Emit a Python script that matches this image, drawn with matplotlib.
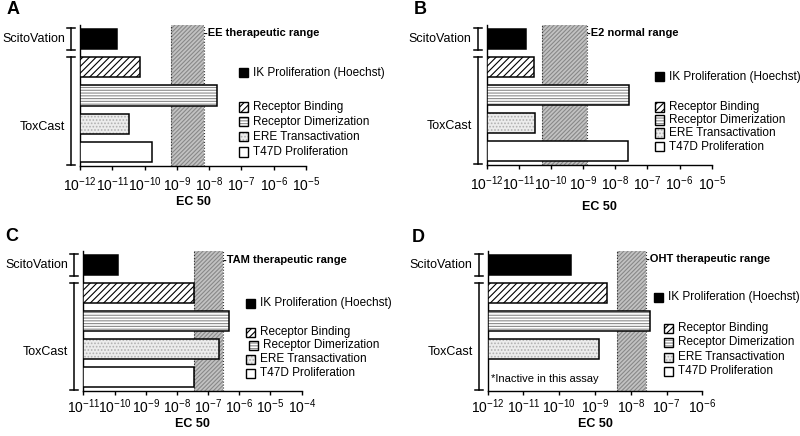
import numpy as np
import matplotlib
matplotlib.use('Agg')
import matplotlib.pyplot as plt
from matplotlib.patches import Rectangle
from matplotlib.lines import Line2D
from matplotlib.ticker import LogLocator, LogFormatterSciNotation, NullLocator

plt.rcParams['font.family'] = ['Liberation Sans', 'DejaVu Sans']
plt.rcParams['mathtext.fontset'] = 'custom'
plt.rcParams['mathtext.rm'] = 'Liberation Sans'
plt.rcParams['mathtext.it'] = 'Liberation Sans:italic'
plt.rcParams['mathtext.bf'] = 'Liberation Sans:bold'
plt.rcParams['hatch.linewidth'] = 0.8

W, H = 800, 436

# assays, top to bottom
assays = ['IK Proliferation (Hoechst)', 'Receptor Binding',
          'Receptor Dimerization', 'ERE Transactivation', 'T47D Proliferation']
groups = ['ScitoVation', 'ToxCast']

# EC50 values (M)
ee_ec50 = [1.4e-11, 7.0e-11, 1.7e-8, 3.2e-11, 1.7e-10]
e2_ec50 = [1.7e-11, 3.0e-11, 2.6e-8, 3.1e-11, 2.5e-8]
tam_ec50 = [1.3e-10, 3.6e-8, 4.8e-7, 2.3e-7, 3.6e-8]
oht_ec50 = [2.1e-10, 2.1e-9, 3.5e-8, 1.3e-9, np.nan]  # T47D inactive

# therapeutic / normal ranges (M)
ee_range = (6.6e-10, 6.8e-9)
e2_range = (5.4e-11, 1.3e-9)
tam_range = (3.5e-8, 2.95e-7)
oht_range = (4.0e-9, 2.6e-8)

range_labels = ['-EE therapeutic range', '-E2 normal range',
                '-TAM therapeutic range', '-OHT therapeutic range']
xlims = [(1e-12, 1e-5), (1e-12, 1e-5), (1e-11, 1e-4), (1e-12, 1e-6)]

# fill, hatch, hatch colour for each assay
styles = [('black', None, 'black'),
          ('white', '/////', 'black'),
          ('white', '------', '#8a8a8a'),
          ('#ececec', '.....', '#b0b0b0'),
          ('white', None, 'black')]

# layout in pixels: axes (left, top, right, bottom)
panels = [
    dict(letter='A', rect=(80, 25, 306, 166), letter_xy=(13, 10), xlab=(193, 202), pad=4,
         leg_x=[239, 239, 239, 239, 239], leg_y=[73, 107, 122, 137, 152]),
    dict(letter='B', rect=(486.7, 25, 711.7, 165), letter_xy=(420, 10), xlab=(599, 207), pad=4,
         leg_x=[655, 655, 655, 655, 655], leg_y=[77, 107, 120, 133, 147]),
    dict(letter='C', rect=(83.3, 251.2, 301.7, 391.3), letter_xy=(12, 236), xlab=(192, 424), pad=1.5,
         leg_x=[246, 246, 249, 246, 246], leg_y=[303, 332, 345, 359, 373]),
    dict(letter='D', rect=(487.7, 251, 702.3, 391.3), letter_xy=(418, 237), xlab=(595, 424), pad=1.5,
         leg_x=[654, 664, 664, 664, 664], leg_y=[297, 328, 342, 357, 371]),
]

all_values = [ee_ec50, e2_ec50, tam_ec50, oht_ec50]
all_ranges = [ee_range, e2_range, tam_range, oht_range]

fig = plt.figure(figsize=(W / 100, H / 100), dpi=100, facecolor='white')

for p, values, rng, rlabel, (xmin, xmax) in zip(panels, all_values, all_ranges,
                                                 range_labels, xlims):
    l, t, r, b = p['rect']
    ax = fig.add_axes([l / W, 1 - b / H, (r - l) / W, (b - t) / H])
    ax.set_xscale('log')
    ax.set_xlim(xmin, xmax)
    ax.set_ylim(4.5, -0.5)

    # range band
    ax.axvspan(rng[0], rng[1], facecolor='#c2c2c2', hatch='////////',
               edgecolor='#888888', linewidth=0, zorder=1)
    for edge in rng:
        ax.axvline(edge, color='#333333', linestyle=':', linewidth=0.8, zorder=2)
    ax.text(rng[1], -0.2, rlabel, fontsize=8, fontweight='bold',
            va='center', ha='left')

    for i, v in enumerate(values):
        if np.isnan(v):
            continue
        fc, hatch, hc = styles[i]
        ax.barh(i, v - xmin, left=xmin, height=0.71, color=fc, hatch=hatch,
                edgecolor=hc, linewidth=0, zorder=3)
        ax.barh(i, v - xmin, left=xmin, height=0.71, fill=False,
                edgecolor='black', linewidth=1.1, zorder=4)
    if np.isnan(values[4]):
        ax.text(xmin * 1.25, 4.05, '*Inactive in this assay', fontsize=8,
                va='center', ha='left')

    for s in ['top', 'right']:
        ax.spines[s].set_visible(False)
    for s in ['left', 'bottom']:
        ax.spines[s].set_linewidth(1.0)
    ax.set_yticks([])
    ax.xaxis.set_major_locator(LogLocator(base=10, numticks=20))
    ax.xaxis.set_minor_locator(NullLocator())
    ax.xaxis.set_major_formatter(LogFormatterSciNotation())
    ax.tick_params(axis='x', direction='out', length=3, width=1,
                   labelsize=10, pad=p['pad'])

    # group brackets left of the axis
    bx = -9 / (r - l)
    tr = matplotlib.transforms.blended_transform_factory(ax.transAxes, ax.transData)
    cap = 4 / (r - l)
    for (y0, y1), name, ylab in zip([(-0.4, 0.4), (0.65, 4.45)], groups, [0, 3.1]):
        ax.add_line(Line2D([bx, bx], [y0, y1], transform=tr, color='black',
                           lw=1.1, clip_on=False))
        for yy in (y0, y1):
            ax.add_line(Line2D([bx - cap, bx + cap], [yy, yy], transform=tr,
                               color='black', lw=1.1, clip_on=False))
        ax.text(-15 / (r - l), ylab, name, transform=tr, fontsize=9,
                ha='right', va='center')

    # legend drawn as boxes + labels
    for i, name in enumerate(assays):
        fc, hatch, hc = styles[i]
        x0, y0 = p['leg_x'][i], p['leg_y'][i]
        fig.patches.append(Rectangle((x0 / W, 1 - (y0 + 4.5) / H), 9 / W, 9 / H,
                                     transform=fig.transFigure, facecolor=fc,
                                     hatch=hatch, edgecolor=hc, linewidth=0))
        fig.patches.append(Rectangle((x0 / W, 1 - (y0 + 4.5) / H), 9 / W, 9 / H,
                                     transform=fig.transFigure, fill=False,
                                     edgecolor='black', linewidth=1.0))
        fig.text((x0 + 14) / W, 1 - y0 / H, name, fontsize=8.5,
                 va='center', ha='left')

    fig.text(p['xlab'][0] / W, 1 - p['xlab'][1] / H, 'EC 50', fontsize=9,
             fontweight='bold', ha='center', va='center')
    fig.text(p['letter_xy'][0] / W, 1 - p['letter_xy'][1] / H, p['letter'],
             fontsize=13, fontweight='bold', ha='center', va='center')

fig.savefig('out.png', dpi=100, facecolor='white')
